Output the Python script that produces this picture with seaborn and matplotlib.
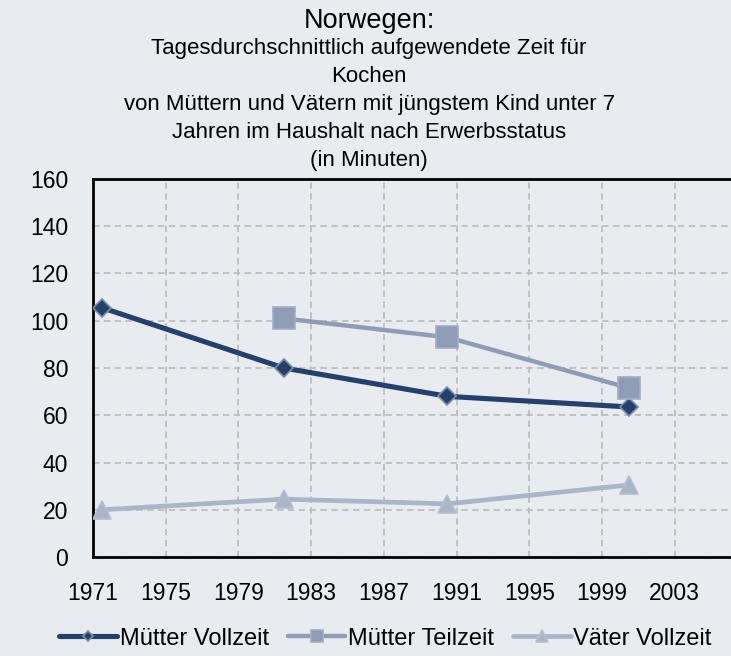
import matplotlib
matplotlib.use("Agg")
import matplotlib.pyplot as plt
import numpy as np
import pandas as pd
import seaborn as sns

# ---------------------------------------------------------------------------
# Data (minutes per day)
# ---------------------------------------------------------------------------
years = [1971, 1981, 1990, 2000]
muetter_vollzeit = [105.5, 80, 68, 63.5]
muetter_teilzeit = [np.nan, 101, 93, 71.5]
vaeter_vollzeit = [20, 24.5, 22.5, 30.5]

series_names = ["Mütter Vollzeit", "Mütter Teilzeit", "Väter Vollzeit"]
x_ticks = list(range(1971, 2004, 4))
y_ticks = list(range(0, 161, 20))

title_main = "Norwegen:"
title_sub = ("Tagesdurchschnittlich aufgewendete Zeit für\nKochen\n"
             "von Müttern und Vätern mit jüngstem Kind unter 7\n"
             "Jahren im Haushalt nach Erwerbsstatus\n(in Minuten)")

# ---------------------------------------------------------------------------
# Styling
# ---------------------------------------------------------------------------
bg = "#E8EBF0"
colors = ["#263F6B", "#8F9CB6", "#A9B5C9"]
edge_colors = ["#7D8CAA", "#A3AEC4", "#B3BED0"]
markers = ["D", "s", "^"]
marker_sizes = [9, 15.5, 13.5]
line_widths = [3.7, 3.2, 3.4]

sns.set_style("white", {"axes.facecolor": bg, "figure.facecolor": bg,
                        "text.color": "black", "xtick.color": "black",
                        "ytick.color": "black"})
plt.rcParams["font.family"] = ["Liberation Sans", "DejaVu Sans"]

df = pd.DataFrame({
    "Jahr": [y + 0.5 for y in years] * 3,  # surveys plotted at mid-year
    "Minuten": muetter_vollzeit + muetter_teilzeit + vaeter_vollzeit,
    "Gruppe": np.repeat(series_names, len(years)),
}).dropna()

fig = plt.figure(figsize=(7.31, 6.56), dpi=100)
ax = fig.add_axes([93 / 731, 1 - 557 / 656, 1 - 93 / 731 + 0.01, (557 - 179) / 656])

for name, col, ec, mk, ms, lw in zip(series_names, colors, edge_colors, markers,
                                     marker_sizes, line_widths):
    sub = df[df["Gruppe"] == name]
    sns.lineplot(data=sub, x="Jahr", y="Minuten", ax=ax, color=col, lw=lw,
                 marker=mk, markersize=ms, markeredgecolor=ec, markeredgewidth=1.2,
                 label=name, zorder=3)

ax.set_xlim(1971, 2006.5)
ax.set_ylim(0, 160)
ax.set_xticks(x_ticks)
ax.set_yticks(y_ticks)
ax.set_xlabel("")
ax.set_ylabel("")
ax.grid(True, color="#BDBDBD", ls=(0, (3.5, 2.5)), lw=1.3, zorder=0)
ax.set_axisbelow(True)

for side in ["left", "bottom", "top"]:
    ax.spines[side].set_color("black")
    ax.spines[side].set_linewidth(2)
ax.spines["right"].set_visible(False)
ax.tick_params(axis="both", direction="out", length=6, width=2, color="black",
               labelsize=16.5, labelcolor="black")
ax.tick_params(axis="y", pad=12)
ax.tick_params(axis="x", pad=12)

fig.text(0.505, 0.968, title_main, ha="center", va="center", fontsize=19.5,
         color="black")
fig.text(0.505, 0.841, title_sub, ha="center", va="center", fontsize=16,
         linespacing=1.43, color="black")

leg = ax.legend(loc="center", bbox_to_anchor=(0.453, -0.216), ncol=3, frameon=False,
                fontsize=17, handlelength=2.45, columnspacing=0.8, handletextpad=0.1,
                markerscale=0.6)
for t in leg.get_texts():
    t.set_color("black")

fig.savefig("out.png", dpi=100, facecolor=bg)
